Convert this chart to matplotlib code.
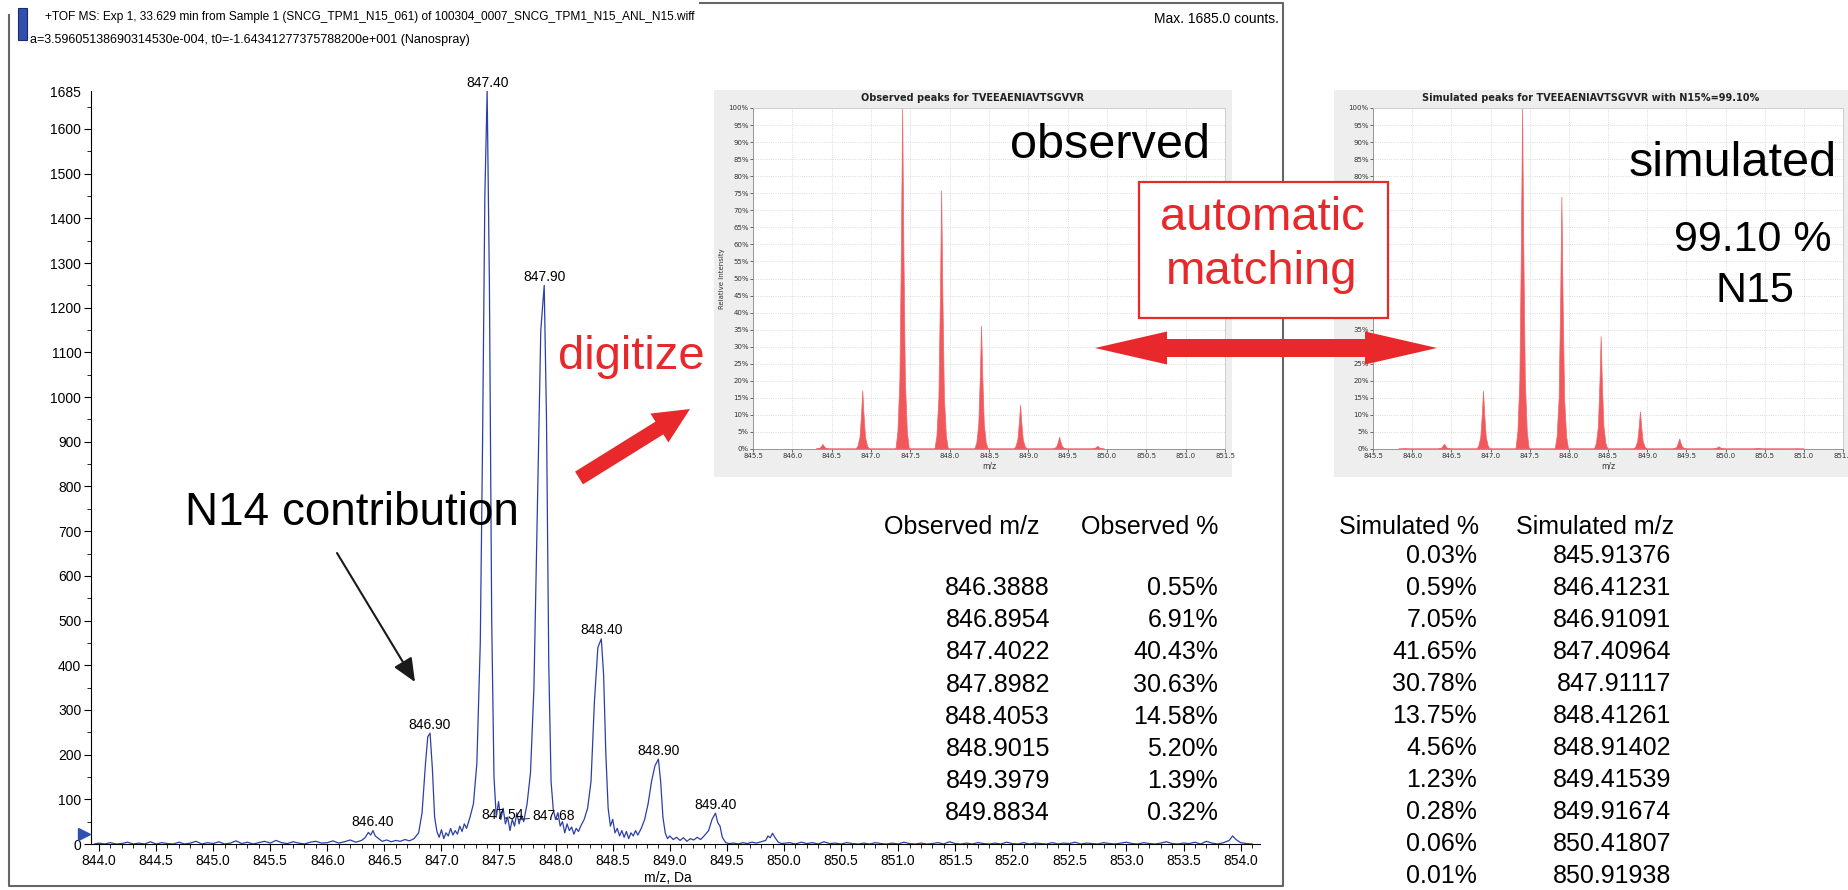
import numpy as np
import matplotlib.pyplot as plt
from matplotlib import font_manager
from matplotlib.patches import Rectangle, FancyArrow
from matplotlib.ticker import MultipleLocator

W, H = 1848, 890

# main TOF profile (m/z, counts)
spec_mz = [843.96, 844.00, 844.05, 844.10, 844.15, 844.20, 844.25, 844.30, 844.35, 844.40,
           844.45, 844.50, 844.55, 844.60, 844.65, 844.70, 844.75, 844.80, 844.85, 844.90,
           844.95, 845.00, 845.05, 845.10, 845.15, 845.20, 845.25, 845.30, 845.35, 845.40,
           845.45, 845.50, 845.55, 845.60, 845.65, 845.70, 845.75, 845.80, 845.85, 845.90,
           845.95, 846.00, 846.05, 846.10, 846.15, 846.20, 846.25, 846.30, 846.33, 846.36,
           846.38, 846.40, 846.42, 846.45, 846.48, 846.52, 846.56, 846.60, 846.64, 846.68,
           846.72, 846.76, 846.80, 846.83, 846.86, 846.88, 846.90, 846.92, 846.94, 846.96,
           846.98, 847.00, 847.02, 847.04, 847.06, 847.08, 847.10, 847.12, 847.14, 847.16,
           847.18, 847.20, 847.22, 847.25, 847.28, 847.31, 847.34, 847.36, 847.38, 847.40,
           847.42, 847.44, 847.46, 847.48, 847.50, 847.52, 847.54, 847.56, 847.58, 847.60,
           847.62, 847.64, 847.66, 847.68, 847.70, 847.72, 847.75, 847.78, 847.81, 847.84,
           847.87, 847.90, 847.92, 847.94, 847.96, 847.98, 848.00, 848.02, 848.04, 848.06,
           848.08, 848.10, 848.12, 848.14, 848.16, 848.18, 848.20, 848.22, 848.25, 848.28,
           848.31, 848.34, 848.37, 848.40, 848.42, 848.44, 848.46, 848.48, 848.50, 848.52,
           848.54, 848.56, 848.58, 848.60, 848.62, 848.64, 848.66, 848.68, 848.70, 848.72,
           848.75, 848.78, 848.81, 848.84, 848.87, 848.90, 848.92, 848.94, 848.96, 848.98,
           849.00, 849.03, 849.06, 849.09, 849.12, 849.15, 849.18, 849.21, 849.24, 849.27,
           849.30, 849.34, 849.37, 849.40, 849.42, 849.44, 849.46, 849.49, 849.52, 849.56,
           849.60, 849.64, 849.68, 849.72, 849.76, 849.80, 849.84, 849.86, 849.88, 849.90,
           849.92, 849.95, 849.98, 850.05, 850.10, 850.15, 850.20, 850.25, 850.30, 850.35,
           850.40, 850.45, 850.50, 850.55, 850.60, 850.65, 850.70, 850.75, 850.80, 850.85,
           850.90, 850.95, 851.00, 851.05, 851.10, 851.15, 851.20, 851.25, 851.30, 851.35,
           851.40, 851.45, 851.50, 851.55, 851.60, 851.65, 851.70, 851.75, 851.80, 851.85,
           851.90, 851.95, 852.00, 852.05, 852.10, 852.15, 852.20, 852.25, 852.30, 852.35,
           852.40, 852.45, 852.50, 852.55, 852.60, 852.65, 852.70, 852.75, 852.80, 852.85,
           852.90, 852.95, 853.00, 853.05, 853.10, 853.15, 853.20, 853.25, 853.30, 853.35,
           853.40, 853.45, 853.50, 853.55, 853.60, 853.65, 853.70, 853.75, 853.80, 853.85,
           853.90, 853.93, 853.96, 854.00, 854.05, 854.10]
spec_counts = [0, 2, 0, 3, 0, 1, 4, 0, 2, 0,
               5, 0, 3, 1, 0, 4, 0, 2, 6, 0,
               3, 1, 5, 0, 2, 7, 1, 4, 0, 3,
               6, 2, 8, 3, 1, 5, 2, 0, 4, 6,
               2, 3, 7, 2, 5, 9, 4, 8, 14, 26,
               20, 30, 18, 12, 6, 9, 5, 8, 6, 10,
               7, 12, 25, 70, 180, 240, 248, 170, 60, 28,
               15, 32, 12, 25, 18, 35, 20, 30, 22, 40,
               28, 45, 35, 60, 90, 180, 450, 900, 1450, 1685,
               1250, 500, 150, 60, 95, 55, 80, 45, 60, 30,
               55, 40, 70, 45, 65, 50, 90, 160, 350, 750,
               1150, 1250, 950, 400, 140, 75, 55, 70, 40, 50,
               25, 45, 30, 38, 22, 35, 28, 40, 55, 80,
               140, 320, 440, 459, 380, 200, 80, 40, 55, 25,
               35, 18, 30, 15, 28, 12, 25, 18, 30, 20,
               35, 55, 90, 140, 175, 190, 140, 60, 25, 12,
               18, 10, 15, 8, 14, 6, 12, 9, 15, 10,
               18, 30, 55, 69, 48, 40, 15, 3, 1, 2,
               0, 3, 1, 4, 2, 5, 8, 18, 14, 24,
               15, 4, 1, 3, 0, 4, 1, 3, 0, 5,
               1, 2, 0, 3, 1, 0, 2, 0, 3, 1,
               0, 2, 0, 4, 1, 0, 2, 0, 1, 3,
               0, 5, 1, 0, 2, 0, 3, 1, 0, 2,
               0, 4, 1, 0, 3, 0, 2, 1, 0, 3,
               0, 2, 1, 4, 0, 2, 1, 0, 3, 1,
               0, 2, 4, 1, 0, 3, 1, 0, 2, 5,
               1, 0, 2, 1, 4, 0, 6, 2, 0, 3,
               8, 18, 10, 3, 1, 0]

label_mz = [846.40, 846.90, 847.40, 847.54, 847.90, 848.40, 848.90, 849.40]
label_counts = [30, 248, 1685, 47, 1250, 459, 190, 69]

obs_mz = [846.3888, 846.8954, 847.4022, 847.8982, 848.4053, 848.9015, 849.3979, 849.8834]
obs_pct = [0.55, 6.91, 40.43, 30.63, 14.58, 5.20, 1.39, 0.32]
sim_mz = [845.91376, 846.41231, 846.91091, 847.40964, 847.91117, 848.41261,
          848.91402, 849.41539, 849.91674, 850.41807, 850.91938]
sim_pct = [0.03, 0.59, 7.05, 41.65, 30.78, 13.75, 4.56, 1.23, 0.28, 0.06, 0.01]

RED = '#e8282b'
BLUE = '#2b3fa8'

names = {f.name for f in font_manager.fontManager.ttflist}
SANS = 'Liberation Sans'
NARROW = 'Liberation Sans Narrow' if 'Liberation Sans Narrow' in names else SANS
small = 11.5 if NARROW != SANS else 10
plt.rcParams['font.family'] = [SANS, 'DejaVu Sans']


def box(l, t, r, b):
    return [l / W, 1 - b / H, (r - l) / W, (b - t) / H]


fig = plt.figure(figsize=(W / 100, H / 100), dpi=100)

# main spectrum
ax = fig.add_axes(box(91, 91, 1260, 844), zorder=1)
ax.patch.set_visible(False)
ax.plot(spec_mz, spec_counts, color=BLUE, lw=0.9)
ax.set_xlim(843.93, 854.17)
ax.set_ylim(0, 1685)
for s in ['top', 'right']:
    ax.spines[s].set_visible(False)
ax.set_xticks(np.arange(844, 854.01, 0.5))
ax.set_xticklabels([f'{v:.1f}' for v in np.arange(844, 854.01, 0.5)])
ax.xaxis.set_minor_locator(MultipleLocator(0.1))
yt = list(range(0, 1601, 100)) + [1685]
ax.set_yticks(yt)
ax.set_yticklabels([str(v) for v in yt])
ax.yaxis.set_minor_locator(MultipleLocator(50))
ax.yaxis.get_major_ticks()[-1].tick1line.set_visible(False)
ax.tick_params(direction='out', length=5, width=0.8, pad=2, labelsize=small)
ax.tick_params(which='minor', direction='out', length=3, width=0.6)
for t in ax.get_xticklabels() + ax.get_yticklabels():
    t.set_family([NARROW, 'DejaVu Sans'])
ax.plot([-0.006], [22], marker='>', ms=8, color='#3050b0', transform=ax.get_yaxis_transform(),
        clip_on=False)
for mz, c in zip(label_mz, label_counts):
    ax.annotate(f'{mz:.2f}', (mz, c), xytext=(0, 1), textcoords='offset points',
                ha='center', va='bottom', fontsize=small, family=[NARROW, 'DejaVu Sans'])
ax.annotate('847.68', (847.68, 55), xytext=(847.98, 47), textcoords='data',
            ha='center', va='bottom', fontsize=small, family=[NARROW, 'DejaVu Sans'],
            arrowprops=dict(arrowstyle='-', color='#222222', lw=0.7, shrinkA=0, shrinkB=0,
                            relpos=(0.05, 0.35)))

# panel backgrounds for the two screenshots
bg = fig.add_axes([0, 0, 1, 1], zorder=2)
bg.set_xlim(0, W)
bg.set_ylim(H, 0)
bg.axis('off')
bg.add_patch(Rectangle((714, 90), 518, 387, color='#eeeeee', lw=0))
bg.add_patch(Rectangle((1334, 90), 514, 387, color='#eeeeee', lw=0))

# shape of one stick peak in the screenshots (offset in m/z, fraction of height)
PEAK_DX = np.array([-0.085, -0.06, -0.035, -0.015, 0, 0.015, 0.035, 0.06, 0.085])
PEAK_REL = np.array([0, 0.05, 0.2, 0.6, 1, 0.6, 0.2, 0.05, 0])


def inset(pos, title, centers, pcts, title_x):
    a = fig.add_axes(pos, zorder=3)
    rel = np.array(pcts) / max(pcts) * 100
    xs, ys = [], []
    for c, h in zip(centers, rel):
        xs.extend(c + PEAK_DX)
        ys.extend(h * PEAK_REL)
    a.fill(xs, ys, color='#f0585c', lw=0.5, ec='#f26468')
    a.set_xlim(845.5, 851.5)
    a.set_ylim(0, 100)
    a.set_xticks(np.arange(845.5, 851.51, 0.5))
    a.set_xticklabels([f'{v:.1f}' for v in np.arange(845.5, 851.51, 0.5)])
    a.set_yticks(range(0, 101, 5))
    a.set_yticklabels([f'{v}%' for v in range(0, 101, 5)])
    a.tick_params(labelsize=5, length=2, width=0.5, pad=1, colors='#333333')
    for t in a.get_xticklabels() + a.get_yticklabels():
        t.set_family('DejaVu Sans')
    a.grid(True, color='#d0d0d0', ls=':', lw=0.6)
    a.set_axisbelow(True)
    for s in a.spines.values():
        s.set_color('#c8c8c8')
        s.set_linewidth(0.6)
    a.spines['left'].set_color('#888888')
    a.spines['bottom'].set_color('#888888')
    a.set_xlabel('m/z', fontsize=5.5, family='DejaVu Sans', labelpad=2, color='#333333')
    a.set_ylabel('Relative Intensity', fontsize=5, family='DejaVu Sans', labelpad=3,
                 color='#333333')
    bg.text(title_x, 98, title, ha='center', va='center', fontsize=7, fontweight='bold',
            family='DejaVu Sans', color='#222222')
    return a


inset(box(753, 108, 1225, 449), 'Observed peaks for TVEEAENIAVTSGVVR', obs_mz, obs_pct, 973)
inset(box(1373, 108, 1843, 449), 'Simulated peaks for TVEEAENIAVTSGVVR with N15%=99.10%',
      sim_mz, sim_pct, 1591)

# overlay: frame, header, annotations, tables
fg = fig.add_axes([0, 0, 1, 1], zorder=5)
fg.set_xlim(0, W)
fg.set_ylim(H, 0)
fg.axis('off')
fg.patch.set_visible(False)

fc = '#666666'
fg.plot([9, 9, 1283, 1283, 700], [15, 886, 886, 3, 3], color=fc, lw=1.5, zorder=0.5)
fg.add_patch(Rectangle((18, 8), 9, 32, fc='#3050b0', ec='#1a2a70', lw=0.8))

renderer = fig.canvas.get_renderer()


def fit_text(x, y, s, width, **kw):
    t = fg.text(x, y, s, ha='left', va='center', family=[NARROW, 'DejaVu Sans'], **kw)
    w = t.get_window_extent(renderer).width
    t.set_fontsize(t.get_fontsize() * width / w)
    return t


fit_text(45, 17, '+TOF MS: Exp 1, 33.629 min from Sample 1 (SNCG_TPM1_N15_061) of '
         '100304_0007_SNCG_TPM1_N15_ANL_N15.wiff', 650, fontsize=11)
fit_text(30, 40, 'a=3.59605138690314530e-004, t0=-1.64341277375788200e+001 (Nanospray)',
         440, fontsize=11)
fg.text(1279, 19, 'Max. 1685.0 counts.', ha='right', va='center', fontsize=small,
        family=[NARROW, 'DejaVu Sans'])
fg.text(668, 878, 'm/z, Da', ha='center', va='center', fontsize=small,
        family=[NARROW, 'DejaVu Sans'])

fg.text(185, 513, 'N14 contribution', ha='left', va='center', fontsize=33, color='black')
fg.annotate('', xy=(415, 682), xytext=(337, 553),
            arrowprops=dict(arrowstyle='-|>,head_length=0.8,head_width=0.35', color='#1a1a1a',
                            lw=1.5, mutation_scale=18, shrinkA=0, shrinkB=0))
fg.text(631, 357, 'digitize', ha='center', va='center', fontsize=34, color=RED)
fg.add_patch(FancyArrow(579, 478, 111, -69, width=15, head_width=34, head_length=36,
                        length_includes_head=True, color=RED, lw=0))

fg.text(1110, 146, 'observed', ha='center', va='center', fontsize=35, color='black')
fg.text(1733, 163, 'simulated', ha='center', va='center', fontsize=35, color='black')
fg.text(1753, 240, '99.10 %', ha='center', va='center', fontsize=31, color='black')
fg.text(1755, 291, 'N15', ha='center', va='center', fontsize=31, color='black')

fg.add_patch(Rectangle((1139, 182), 249, 136, fc='white', ec=RED, lw=1.6))
fg.text(1262, 218, 'automatic', ha='center', va='center', fontsize=34, color=RED)
fg.text(1262, 272, 'matching', ha='center', va='center', fontsize=34, color=RED)
fg.add_patch(FancyArrow(1266, 348, -171, 0, width=18, head_width=33, head_length=72,
                        length_includes_head=True, color=RED, lw=0))
fg.add_patch(FancyArrow(1266, 348, 171, 0, width=18, head_width=33, head_length=72,
                        length_includes_head=True, color=RED, lw=0))

# tables
tfs = 18
fg.text(1040, 527, 'Observed m/z', ha='right', va='center', fontsize=tfs)
fg.text(1218, 527, 'Observed %', ha='right', va='center', fontsize=tfs)
for i, (mz, p) in enumerate(zip(obs_mz, obs_pct)):
    y = 588 + 32.2 * i
    fg.text(1050, y, f'{mz:.4f}', ha='right', va='center', fontsize=tfs)
    fg.text(1218, y, f'{p:.2f}%', ha='right', va='center', fontsize=tfs)

fg.text(1479, 527, 'Simulated %', ha='right', va='center', fontsize=tfs)
fg.text(1674, 527, 'Simulated m/z', ha='right', va='center', fontsize=tfs)
for i, (p, mz) in enumerate(zip(sim_pct, sim_mz)):
    y = 556 + 32.0 * i
    fg.text(1477, y, f'{p:.2f}%', ha='right', va='center', fontsize=tfs)
    fg.text(1671, y, f'{mz:.5f}', ha='right', va='center', fontsize=tfs)

fig.savefig('out.png', dpi=100)
